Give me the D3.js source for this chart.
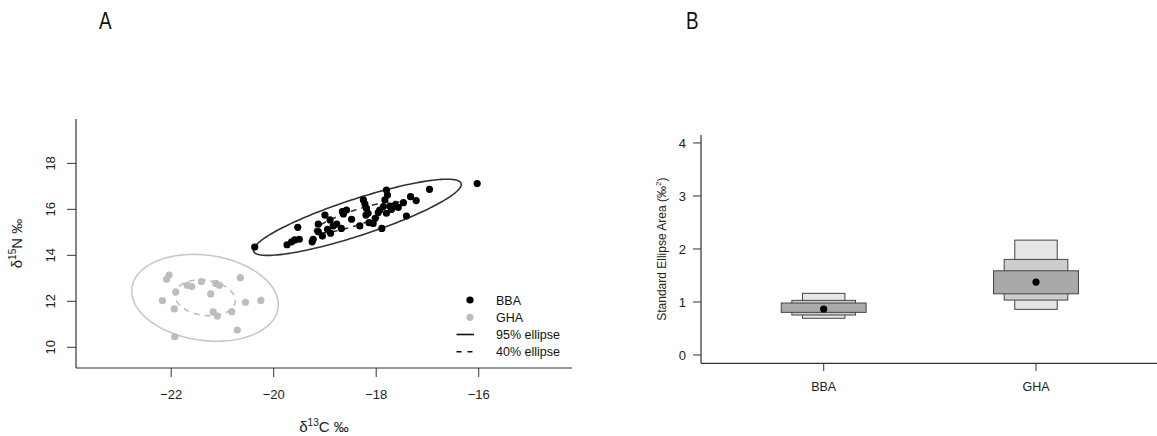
<!DOCTYPE html>
<html><head><meta charset="utf-8">
<script src="https://cdn.jsdelivr.net/npm/d3@7"></script>
<style>
body{margin:0;background:#fff;}
svg{display:block;font-family:"Liberation Sans",Arial,sans-serif;}
</style></head>
<body>
<svg id="c" width="1157" height="436"></svg>
<script>
// ---------- Panel A data ----------
const groups = ["BBA", "GHA"];
const bbaC = [-20.37,-16.03,-16.96,-19.74,-19.65,-19.59,-19.50,-19.53,-19.25,-19.23,-19.13,-19.13,-19.05,-19.00,-18.95,-18.90,-18.89,-18.84,-18.77,-18.68,-18.66,-18.64,-18.48,-18.32,-18.25,-18.22,-18.19,-18.16,-18.20,-18.14,-18.06,-18.02,-17.96,-17.93,-17.89,-17.86,-17.83,-17.80,-17.78,-17.80,-17.73,-17.70,-17.63,-17.57,-17.47,-17.41,-17.33,-17.22,-18.58];
const bbaN = [14.36,17.12,16.87,14.46,14.59,14.67,14.70,15.22,14.59,14.70,15.36,15.03,14.84,15.75,15.13,15.54,14.96,15.28,15.36,15.17,15.90,15.80,15.57,15.28,16.41,16.23,16.04,15.83,15.75,15.42,15.39,15.61,15.86,15.97,15.17,16.12,16.41,16.84,16.62,15.83,16.14,16.00,16.19,16.09,16.29,15.71,16.55,16.38,15.97];
const ghaC = [-22.04,-22.09,-22.17,-21.94,-21.91,-21.93,-21.69,-21.60,-21.41,-21.23,-21.13,-21.06,-21.18,-21.10,-20.82,-20.71,-20.65,-20.55,-20.25];
const ghaN = [13.14,12.96,12.03,11.67,12.41,10.46,12.70,12.64,12.86,12.32,12.78,12.70,11.54,11.36,11.55,10.75,13.03,11.96,12.04];
const xTicksA = [-22,-20,-18,-16];
const yTicksA = [10,12,14,16,18];
const legendLabels = ["BBA","GHA","95% ellipse","40% ellipse"];
const ellipseLevels = [0.95, 0.40];

// ---------- Panel B data ----------
const seaGroups = ["BBA","GHA"];
const seaMode = [0.867, 1.376];
const sea50 = [[0.804,0.980],[1.154,1.588]];
const sea95 = [[0.754,1.030],[1.036,1.803]];
const sea99 = [[0.692,1.163],[0.861,2.167]];
const yTicksB = [0,1,2,3,4];

const svg = d3.select("#c");
const axisCol = "#333";

// panel letters
svg.append("text").attr("x",99).attr("y",29).attr("font-size",23).attr("fill","#111").text("A")
  .attr("transform","translate(99,29) scale(0.82,1) translate(-99,-29)");
svg.append("text").attr("x",686).attr("y",29).attr("font-size",23).attr("fill","#111").text("B")
  .attr("transform","translate(686,29) scale(0.82,1) translate(-686,-29)");

// ================= Panel A =================
const xA = d3.scaleLinear().domain([-23.857,-14.18]).range([76,572]);
const yA = d3.scaleLinear().domain([9.1,19.93]).range([368,119]);

const gA = svg.append("g");
gA.append("line").attr("x1",76).attr("x2",572).attr("y1",368).attr("y2",368).attr("stroke",axisCol).attr("stroke-width",1.2);
gA.append("line").attr("x1",76).attr("x2",76).attr("y1",119).attr("y2",368).attr("stroke",axisCol).attr("stroke-width",1.2);
xTicksA.forEach(t=>{
  gA.append("line").attr("x1",xA(t)).attr("x2",xA(t)).attr("y1",368).attr("y2",377).attr("stroke",axisCol);
  gA.append("text").attr("x",xA(t)).attr("y",399).attr("text-anchor","middle").attr("font-size",13).attr("fill","#222").text("\u2212"+Math.abs(t));
});
yTicksA.forEach(t=>{
  gA.append("line").attr("x1",67).attr("x2",76).attr("y1",yA(t)).attr("y2",yA(t)).attr("stroke",axisCol);
  gA.append("text").attr("transform",`translate(55,${yA(t)}) rotate(-90)`).attr("text-anchor","middle").attr("font-size",13).attr("fill","#222").text(t);
});
// axis titles
const xt = gA.append("text").attr("x",324).attr("y",432).attr("text-anchor","middle").attr("font-size",15).attr("fill","#222");
xt.append("tspan").text("\u03b4");
xt.append("tspan").attr("dy",-6).attr("font-size",10).text("13");
xt.append("tspan").attr("dy",6).text("C \u2030");
const yt = gA.append("text").attr("transform","translate(22,243.5) rotate(-90)").attr("text-anchor","middle").attr("font-size",15).attr("fill","#222");
yt.append("tspan").text("\u03b4");
yt.append("tspan").attr("dy",-6).attr("font-size",10).text("15");
yt.append("tspan").attr("dy",6).text("N \u2030");

// ellipses computed from sample covariance
function ellipsePath(cx, cy, level){
  const n = cx.length;
  const mx = d3.mean(cx), my = d3.mean(cy);
  let a=0,b=0,c=0;
  for(let i=0;i<n;i++){const dx=cx[i]-mx, dy=cy[i]-my; a+=dx*dx; b+=dx*dy; c+=dy*dy;}
  a/=(n-1); b/=(n-1); c/=(n-1);
  const tr=(a+c)/2, disc=Math.sqrt(((a-c)/2)**2+b*b);
  const l1=tr+disc, l2=tr-disc;
  const th=0.5*Math.atan2(2*b,a-c);
  const r=Math.sqrt(-2*Math.log(1-level));
  const pts=d3.range(0,361,2).map(d=>{
    const t=d*Math.PI/180;
    const u=r*Math.sqrt(l1)*Math.cos(t), v=r*Math.sqrt(l2)*Math.sin(t);
    return [xA(mx+u*Math.cos(th)-v*Math.sin(th)), yA(my+u*Math.sin(th)+v*Math.cos(th))];
  });
  return d3.line()(pts)+"Z";
}
const ellCols = ["#333333","#c8c8c8"];
const dataC = [bbaC, ghaC], dataN = [bbaN, ghaN];
const ptCols = ["#000000","#bdbdbd"];
[1,0].forEach(g=>{
  gA.append("path").attr("d",ellipsePath(dataC[g],dataN[g],ellipseLevels[0])).attr("fill","none").attr("stroke",ellCols[g]).attr("stroke-width",1.6);
  gA.append("path").attr("d",ellipsePath(dataC[g],dataN[g],ellipseLevels[1])).attr("fill","none").attr("stroke",g?"#bdbdbd":"#333").attr("stroke-width",1.6).attr("stroke-dasharray","6,5");
});
[1,0].forEach(g=>{
  gA.selectAll(null).data(d3.range(dataC[g].length)).enter().append("circle")
    .attr("cx",i=>xA(dataC[g][i])).attr("cy",i=>yA(dataN[g][i])).attr("r",3.6).attr("fill",ptCols[g]);
});
// legend
const ly = [300,317.3,334.5,351.7];
gA.append("circle").attr("cx",470).attr("cy",ly[0]).attr("r",3.6).attr("fill","#000");
gA.append("circle").attr("cx",470).attr("cy",ly[1]).attr("r",3.6).attr("fill","#bdbdbd");
gA.append("line").attr("x1",456.5).attr("x2",474).attr("y1",ly[2]).attr("y2",ly[2]).attr("stroke","#111").attr("stroke-width",1.6);
gA.append("line").attr("x1",456.5).attr("x2",478).attr("y1",ly[3]).attr("y2",ly[3]).attr("stroke","#111").attr("stroke-width",1.6).attr("stroke-dasharray","5,6");
legendLabels.forEach((l,i)=>{
  gA.append("text").attr("x",496).attr("y",ly[i]+4.5).attr("font-size",12.5).attr("fill","#111").text(l);
});

// ================= Panel B =================
const xB = d3.scaleLinear().domain([0.422,2.578]).range([701,1158.7]);
const yB = d3.scaleLinear().domain([-0.157,4.15]).range([363.3,135]);
const gB = svg.append("g");
gB.append("line").attr("x1",701).attr("x2",1157).attr("y1",363.3).attr("y2",363.3).attr("stroke",axisCol).attr("stroke-width",1.2);
gB.append("line").attr("x1",701).attr("x2",701).attr("y1",135).attr("y2",363.3).attr("stroke",axisCol).attr("stroke-width",1.2);
yTicksB.forEach(t=>{
  gB.append("line").attr("x1",693).attr("x2",701).attr("y1",yB(t)).attr("y2",yB(t)).attr("stroke",axisCol);
  gB.append("text").attr("x",686).attr("y",yB(t)+4.6).attr("text-anchor","end").attr("font-size",13).attr("fill","#222").text(t);
});
seaGroups.forEach((g,i)=>{
  gB.append("line").attr("x1",xB(i+1)).attr("x2",xB(i+1)).attr("y1",363.3).attr("y2",371).attr("stroke",axisCol);
  gB.append("text").attr("x",xB(i+1)).attr("y",391).attr("text-anchor","middle").attr("font-size",12.5).attr("fill","#222").text(g);
});
const ytB = gB.append("text").attr("transform","translate(666,249.2) rotate(-90)").attr("text-anchor","middle").attr("font-size",12).attr("fill","#222");
ytB.append("tspan").text("Standard Ellipse Area (\u2030");
ytB.append("tspan").attr("dy",-5).attr("font-size",8).text("2");
ytB.append("tspan").attr("dy",5).text(")");

const boxes = [{d:sea99,w:0.2,f:"#e6e6e6"},{d:sea95,w:0.3,f:"#cdcdcd"},{d:sea50,w:0.4,f:"#a9a9a9"}];
boxes.forEach(b=>{
  b.d.forEach((r,i)=>{
    gB.append("rect").attr("x",xB(i+1-b.w/2)).attr("width",xB(i+1+b.w/2)-xB(i+1-b.w/2))
      .attr("y",yB(r[1])).attr("height",yB(r[0])-yB(r[1])).attr("fill",b.f).attr("stroke","#444").attr("stroke-width",1);
  });
});
seaMode.forEach((m,i)=>{
  gB.append("circle").attr("cx",xB(i+1)).attr("cy",yB(m)).attr("r",3.6).attr("fill","#000");
});
</script>
</body></html>
